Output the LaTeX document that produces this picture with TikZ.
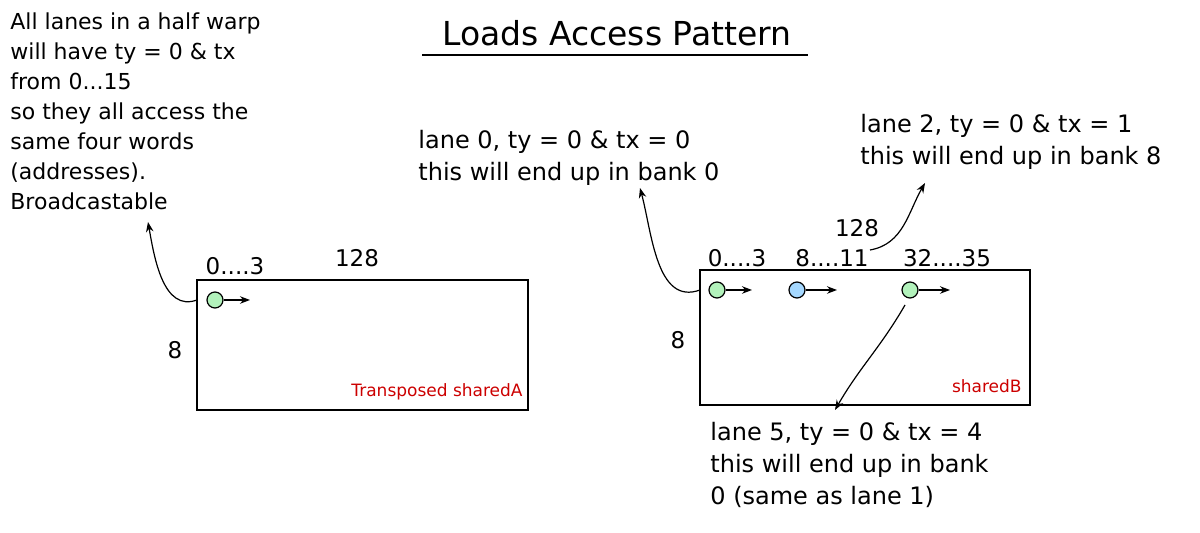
\documentclass[tikz,border=0pt]{standalone}
\usepackage{fontspec}
\setmainfont{DejaVu Sans}
\usetikzlibrary{arrows.meta,positioning}
\tikzset{
  note/.style={anchor=north west,align=left,font=\fontsize{12}{16}\selectfont,inner sep=0pt},
  lbl/.style={font=\fontsize{11.5}{14}\selectfont,inner sep=0pt},
  redlbl/.style={font=\fontsize{8.5}{11}\selectfont,text=red!80!black,inner sep=0pt},
  mem/.style={draw,line width=0.6pt},
  lane/.style={circle,draw,line width=0.6pt,minimum size=8pt,inner sep=0pt},
  pointer/.style={-{Stealth[length=5pt]},line width=0.6pt}
}
\definecolor{lgreen}{HTML}{B2F2BB}
\definecolor{lblue}{HTML}{A5D8FF}
\begin{document}
\begin{tikzpicture}[x=0.5pt,y=-0.5pt]
  \useasboundingbox (0,0) rectangle (1200,533);
  % Title
  \node[font=\fontsize{16.5}{18}\selectfont,inner sep=0pt] (title) at (617,33) {Loads Access Pattern};
  \draw[line width=0.6pt] (422,55) -- (808,55);
  % Left note
  \node[note,font=\fontsize{11}{15}\selectfont] (noteA) at (10,12) {All lanes in a half warp\\will have ty = 0 \& tx\\from 0...15\\so they all access the\\same four words\\(addresses).\\Broadcastable};
  % sharedA
  \draw[mem] (197,280) rectangle (528,410);
  \node[redlbl,anchor=south east] (nameA) at (523,400) {Transposed sharedA};
  \node[lbl] (colA) at (235,266) {0....3};
  \node[lbl] (widthA) at (357,258) {128};
  \node[lbl] (rowsA) at (175,350) {8};
  \node[lane,fill=lgreen] (a0) at (215,300) {};
  \coordinate (a0end) at (250,300);
  \draw[pointer] (a0) -- (a0end);
  \coordinate (noteAend) at (148,222);
  \draw[pointer] (197,300) to[out=200,in=-80] (noteAend);
  % sharedB
  \draw[mem] (700,270) rectangle (1030,405);
  \node[redlbl,anchor=south east] (nameB) at (1022,393) {sharedB};
  \node[lbl] (colB0) at (737,258) {0....3};
  \node[lbl] (colB1) at (832,258) {8....11};
  \node[lbl] (colB2) at (947,258) {32....35};
  \node[lbl] (widthB) at (857,228) {128};
  \node[lbl] (rowsB) at (678,340) {8};
  \node[lane,fill=lgreen] (b0) at (717,290) {};
  \node[lane,fill=lblue] (b2) at (797,290) {};
  \node[lane,fill=lgreen] (b5) at (910,290) {};
  \coordinate (b0end) at (752,290);
  \coordinate (b2end) at (837,290);
  \coordinate (b5end) at (950,290);
  \draw[pointer] (b0) -- (b0end);
  \draw[pointer] (b2) -- (b2end);
  \draw[pointer] (b5) -- (b5end);
  % Notes for sharedB
  \node[note] (note0) at (418,130) {lane 0, ty = 0 \& tx = 0\\this will end up in bank 0};
  \node[note] (note2) at (860,114) {lane 2, ty = 0 \& tx = 1\\this will end up in bank 8};
  \node[note] (note5) at (710,422) {lane 5, ty = 0 \& tx = 4\\this will end up in bank\\0 (same as lane 1)};
  \coordinate (note0end) at (640,188);
  \coordinate (note2end) at (925,183);
  \coordinate (note5end) at (835,410);
  \draw[pointer] (700,290) to[out=200,in=-75] (note0end);
  \draw[pointer] (870,250) to[out=10,in=-120] (note2end);
  \draw[pointer] (905,305) to[out=240,in=60] (note5end);
\end{tikzpicture}
\end{document}
